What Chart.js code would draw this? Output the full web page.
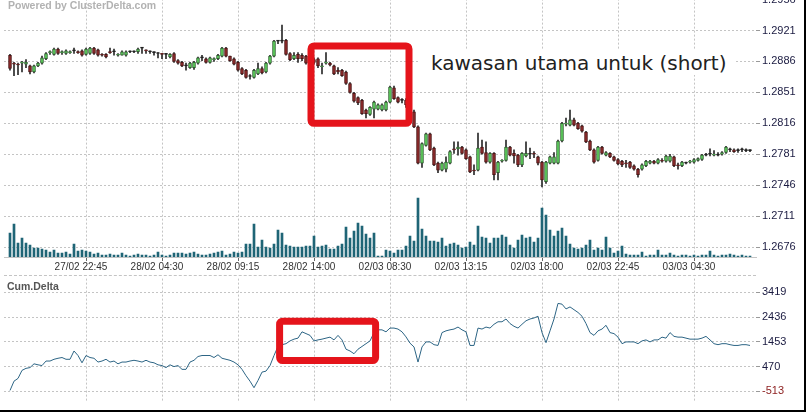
<!DOCTYPE html>
<html>
<head>
<meta charset="utf-8">
<script src="https://cdn.jsdelivr.net/npm/chart.js@4.4.1/dist/chart.umd.min.js"></script>
<style>
  body { margin: 0; background: #fff; width: 811px; height: 419px; overflow: hidden; position: relative; font-family: "Liberation Sans", Arial, sans-serif; }
  #frame { position: absolute; left: 0; top: -2px; width: 804px; height: 412px; border-right: 2px solid #000; border-bottom: 2px solid #000; }
  #top { position: absolute; left: 0; top: -10px; }
  #bot { position: absolute; left: 0; top: 270px; }
  #sep { position: absolute; left: 4px; top: 275px; width: 752px; border-top: 1px dashed #c4c4c4; }
  #powered { position: absolute; left: 8px; top: -1px; font: bold 10.5px "Liberation Sans", Arial, sans-serif; color: #b2b2b2; }
  #cum { position: absolute; left: 7px; top: 280px; font: bold 10.5px "Liberation Sans", Arial, sans-serif; color: #555; }
  #note { position: absolute; left: 418px; top: 50px; width: 304px; height: 22px; padding: 3px 0 0 13px; background: #fff;
          font: 20px/20px "DejaVu Sans", sans-serif; color: #222; white-space: nowrap; }
</style>
</head>
<body>
<div id="frame"></div>
<canvas id="top" width="806" height="285"></canvas>
<canvas id="bot" width="806" height="140"></canvas>
<div id="sep"></div>
<div id="powered">Powered by ClusterDelta.com</div>
<div id="cum">Cum.Delta</div>
<div id="note">kawasan utama untuk (short)</div>
<script>
// candle index of each labelled time (one candle every 4px, 19 candles per label)
const tickIdx = [19, 38, 57, 76, 95, 114, 133, 152, 171];
const timeLabels = ['27/02 22:45', '28/02 04:30', '28/02 09:15', '28/02 14:00', '02/03 08:30',
                    '02/03 13:15', '02/03 18:00', '02/03 22:45', '03/03 04:30'];
const priceTicks = [1.2956, 1.2921, 1.2886, 1.2851, 1.2816, 1.2781, 1.2746, 1.2711, 1.2676];
const deltaTicks = [3419, 2436, 1453, 470, -513];

const open = [
  1.2893,1.2884,1.2883,1.2884,1.2883,1.2881,1.2874,1.2881,1.2884,1.2889,
  1.2896,1.2894,1.2900,1.2896,1.2895,1.2896,1.2898,1.2897,1.2898,1.2894,
  1.2895,1.2901,1.2899,1.2894,1.2894,1.2897,1.2897,1.2893,1.2893,1.2893,
  1.2897,1.2897,1.2897,1.2901,1.2899,1.2897,1.2896,1.2895,1.2895,1.2894,
  1.2891,1.2895,1.2887,1.2885,1.2881,1.2879,1.2879,1.2884,1.2890,1.2889,
  1.2885,1.2888,1.2889,1.2892,1.2901,1.2892,1.2889,1.2885,1.2878,1.2876,
  1.2869,1.2868,1.2872,1.2878,1.2874,1.2884,1.2892,1.2909,1.2909,1.2910,
  1.2895,1.2889,1.2894,1.2893,1.2892,1.2885,1.2888,1.2889,1.2880,1.2884,
  1.2884,1.2881,1.2876,1.2876,1.2874,1.2861,1.2850,1.2845,1.2842,1.2831,
  1.2826,1.2832,1.2832,1.2831,1.2831,1.2840,1.2856,1.2845,1.2842,1.2842,
  1.2837,1.2829,1.2812,1.2771,1.2791,1.2804,1.2788,1.2771,1.2763,1.2764,
  1.2771,1.2787,1.2787,1.2789,1.2786,1.2778,1.2763,1.2763,1.2789,1.2783,
  1.2772,1.2782,1.2760,1.2773,1.2774,1.2789,1.2782,1.2780,1.2769,1.2779,
  1.2781,1.2782,1.2778,1.2772,1.2750,1.2771,1.2771,1.2771,1.2796,1.2815,
  1.2814,1.2820,1.2816,1.2813,1.2806,1.2796,1.2786,1.2774,1.2789,1.2780,
  1.2782,1.2778,1.2775,1.2773,1.2771,1.2772,1.2768,1.2764,1.2764,1.2768,
  1.2771,1.2773,1.2771,1.2774,1.2773,1.2773,1.2778,1.2769,1.2768,1.2771,
  1.2772,1.2772,1.2774,1.2775,1.2780,1.2781,1.2780,1.2780,1.2781,1.2783,
  1.2786,1.2786,1.2785,1.2786,1.2785,1.2785
];
const high = [
  1.2894,1.2885,1.2884,1.2886,1.2888,1.2882,1.2882,1.2885,1.2892,1.2896,
  1.2898,1.2901,1.2901,1.2898,1.2899,1.2898,1.2901,1.2898,1.2899,1.2901,
  1.2902,1.2902,1.2900,1.2895,1.2895,1.2901,1.2900,1.2895,1.2898,1.2898,
  1.2898,1.2898,1.2901,1.2902,1.2899,1.2898,1.2897,1.2896,1.2895,1.2895,
  1.2895,1.2896,1.2888,1.2886,1.2884,1.2885,1.2886,1.2891,1.2893,1.2890,
  1.2891,1.2890,1.2894,1.2902,1.2902,1.2892,1.2890,1.2886,1.2879,1.2877,
  1.2871,1.2877,1.2884,1.2880,1.2885,1.2893,1.2910,1.2910,1.2927,1.2911,
  1.2896,1.2896,1.2896,1.2895,1.2893,1.2890,1.2890,1.2890,1.2884,1.2896,
  1.2885,1.2882,1.2879,1.2877,1.2875,1.2862,1.2851,1.2846,1.2843,1.2832,
  1.2835,1.2841,1.2838,1.2838,1.2841,1.2858,1.2858,1.2846,1.2844,1.2844,
  1.2838,1.2831,1.2813,1.2794,1.2805,1.2805,1.2789,1.2772,1.2772,1.2778,
  1.2785,1.2795,1.2795,1.2790,1.2787,1.2779,1.2769,1.2805,1.2797,1.2795,
  1.2783,1.2783,1.2773,1.2775,1.2797,1.2790,1.2786,1.2781,1.2783,1.2795,
  1.2788,1.2784,1.2779,1.2773,1.2773,1.2779,1.2783,1.2797,1.2817,1.2822,
  1.2831,1.2822,1.2817,1.2814,1.2807,1.2797,1.2787,1.2790,1.2790,1.2784,
  1.2783,1.2779,1.2776,1.2774,1.2774,1.2773,1.2769,1.2765,1.2770,1.2774,
  1.2774,1.2774,1.2776,1.2776,1.2780,1.2781,1.2779,1.2771,1.2773,1.2772,
  1.2774,1.2776,1.2777,1.2781,1.2782,1.2787,1.2785,1.2783,1.2784,1.2790,
  1.2788,1.2787,1.2787,1.2788,1.2787,1.2786
];
const low = [
  1.2876,1.2870,1.2871,1.2874,1.2879,1.2872,1.2873,1.2880,1.2883,1.2888,
  1.2894,1.2893,1.2894,1.2894,1.2894,1.2895,1.2895,1.2895,1.2892,1.2893,
  1.2894,1.2894,1.2892,1.2892,1.2890,1.2895,1.2893,1.2892,1.2893,1.2892,
  1.2896,1.2896,1.2895,1.2895,1.2895,1.2895,1.2893,1.2890,1.2889,1.2889,
  1.2890,1.2885,1.2883,1.2880,1.2876,1.2878,1.2877,1.2883,1.2887,1.2884,
  1.2884,1.2886,1.2888,1.2891,1.2891,1.2886,1.2882,1.2875,1.2871,1.2867,
  1.2866,1.2867,1.2871,1.2872,1.2873,1.2883,1.2891,1.2906,1.2907,1.2893,
  1.2887,1.2888,1.2885,1.2887,1.2883,1.2883,1.2883,1.2879,1.2872,1.2883,
  1.2881,1.2871,1.2872,1.2869,1.2860,1.2850,1.2840,1.2837,1.2826,1.2822,
  1.2825,1.2822,1.2831,1.2830,1.2830,1.2839,1.2843,1.2839,1.2839,1.2834,
  1.2828,1.2811,1.2770,1.2766,1.2790,1.2785,1.2768,1.2760,1.2762,1.2761,
  1.2770,1.2782,1.2780,1.2781,1.2775,1.2760,1.2758,1.2762,1.2781,1.2771,
  1.2771,1.2752,1.2752,1.2772,1.2773,1.2779,1.2771,1.2767,1.2767,1.2778,
  1.2776,1.2777,1.2769,1.2744,1.2748,1.2770,1.2770,1.2770,1.2795,1.2813,
  1.2813,1.2813,1.2809,1.2806,1.2794,1.2785,1.2771,1.2773,1.2781,1.2779,
  1.2777,1.2773,1.2769,1.2767,1.2766,1.2765,1.2763,1.2755,1.2763,1.2767,
  1.2770,1.2770,1.2770,1.2772,1.2772,1.2772,1.2767,1.2764,1.2767,1.2770,
  1.2771,1.2771,1.2773,1.2774,1.2779,1.2779,1.2779,1.2779,1.2780,1.2782,
  1.2784,1.2783,1.2783,1.2784,1.2784,1.2784
];
const close = [
  1.2878,1.2883,1.2882,1.2885,1.2885,1.2874,1.2881,1.2884,1.2890,1.2895,
  1.2897,1.2900,1.2895,1.2897,1.2898,1.2897,1.2898,1.2896,1.2893,1.2900,
  1.2901,1.2895,1.2893,1.2893,1.2891,1.2896,1.2897,1.2894,1.2897,1.2897,
  1.2897,1.2897,1.2900,1.2901,1.2898,1.2897,1.2896,1.2895,1.2894,1.2894,
  1.2894,1.2886,1.2884,1.2881,1.2881,1.2884,1.2885,1.2890,1.2890,1.2885,
  1.2890,1.2889,1.2893,1.2901,1.2892,1.2887,1.2883,1.2876,1.2872,1.2868,
  1.2869,1.2876,1.2878,1.2873,1.2884,1.2892,1.2909,1.2909,1.2909,1.2894,
  1.2888,1.2893,1.2889,1.2889,1.2884,1.2888,1.2885,1.2881,1.2881,1.2885,
  1.2882,1.2872,1.2874,1.2870,1.2861,1.2851,1.2841,1.2839,1.2827,1.2827,
  1.2834,1.2840,1.2837,1.2837,1.2840,1.2857,1.2844,1.2840,1.2842,1.2837,
  1.2831,1.2812,1.2771,1.2793,1.2804,1.2786,1.2769,1.2763,1.2771,1.2772,
  1.2784,1.2786,1.2789,1.2782,1.2776,1.2761,1.2762,1.2788,1.2782,1.2772,
  1.2782,1.2758,1.2772,1.2774,1.2789,1.2780,1.2779,1.2769,1.2782,1.2782,
  1.2781,1.2781,1.2771,1.2752,1.2772,1.2778,1.2778,1.2796,1.2816,1.2816,
  1.2820,1.2814,1.2810,1.2807,1.2795,1.2786,1.2772,1.2789,1.2782,1.2783,
  1.2778,1.2774,1.2770,1.2769,1.2770,1.2766,1.2764,1.2758,1.2769,1.2773,
  1.2773,1.2771,1.2775,1.2773,1.2779,1.2779,1.2768,1.2768,1.2772,1.2771,
  1.2773,1.2775,1.2776,1.2780,1.2780,1.2781,1.2781,1.2780,1.2783,1.2789,
  1.2786,1.2784,1.2785,1.2786,1.2785,1.2785
];
const volume = [
  480,660,280,380,280,240,180,180,160,140,
  100,140,80,80,100,60,260,120,140,120,
  100,60,80,40,40,60,40,40,80,40,
  20,40,60,40,40,20,40,100,40,20,
  40,80,80,80,60,80,100,60,40,40,
  60,80,100,120,40,60,100,80,100,260,
  260,660,200,340,200,180,260,540,480,240,
  220,200,200,200,220,220,420,200,220,240,
  160,160,220,260,600,380,520,680,620,460,
  380,480,20,20,140,120,80,140,140,220,
  420,320,1180,560,420,320,320,300,380,220,
  260,280,240,180,200,300,240,620,400,380,
  280,380,380,440,400,240,180,340,440,380,
  400,300,380,980,840,540,420,520,580,420,
  260,180,160,180,240,340,140,180,140,400,
  180,80,120,220,60,40,40,40,100,20,
  40,40,140,40,40,80,40,20,40,40,
  20,40,20,40,40,120,40,20,40,40,
  60,40,20,40,20,20
];
const cumDelta = [
  -480,-110,0,320,400,430,580,540,510,690,
  690,760,800,830,760,760,1090,910,620,910,
  830,800,650,690,760,650,690,580,650,650,
  690,720,690,650,720,650,620,540,510,430,
  540,470,510,360,360,650,720,870,910,910,
  910,830,940,800,760,720,650,540,360,110,
  -110,-370,-80,250,290,510,910,1270,1340,1380,
  1490,1560,1600,1850,1780,1710,1490,1530,1560,1600,
  1640,1530,1710,1530,1160,1090,980,1160,1270,1380,
  1490,1820,1930,1930,1850,2000,2000,1960,1850,1650,
  1400,1250,650,1250,1450,1450,1340,1310,1820,1890,
  1930,1960,2040,1930,1850,1310,1310,2000,1960,2040,
  2000,2150,2250,2250,2360,2180,2070,2000,2150,2290,
  2360,2400,2470,1820,1420,1890,2360,2980,2950,2760,
  2840,2730,2620,2470,2180,1820,1710,1890,1960,2110,
  1820,1780,1640,1380,1450,1450,1450,1380,1490,1530,
  1450,1530,1530,1640,1600,1820,1670,1640,1640,1600,
  1560,1560,1560,1600,1670,1530,1380,1340,1380,1380,
  1340,1310,1310,1340,1340,1310
];

// highlighted zones: candle index range and value range
const shortZone = { from: 75.25, to: 99.75, hi: 1.29035, lo: 1.2816 };
const deltaZone = { from: 67.4, to: 91.4, hi: 2272, lo: 707 };

const GRID = '#c4c4c4';
const UP = '#5fd35f', UP_EDGE = '#2f5f2f';
const DOWN = '#8e2b2b', DOWN_EDGE = '#4a1515';
const FLAT = '#222';

const idx = open.map((_, i) => i);
const bodyFill = idx.map(i => close[i] > open[i] ? UP : close[i] < open[i] ? DOWN : FLAT);
const bodyEdge = idx.map(i => close[i] > open[i] ? UP_EDGE : close[i] < open[i] ? DOWN_EDGE : FLAT);

function zoneBox(zone, yId) {
  return {
    id: 'zone' + yId,
    afterDatasetsDraw(chart) {
      const x = chart.scales.x, y = chart.scales[yId], c = chart.ctx;
      const l = x.getPixelForValue(zone.from), r = x.getPixelForValue(zone.to);
      const t = y.getPixelForValue(zone.hi), b = y.getPixelForValue(zone.lo);
      c.save();
      c.strokeStyle = '#e5141b';
      c.lineWidth = 7;
      c.lineJoin = 'round';
      c.beginPath();
      c.roundRect(l, t, r - l, b - t, 3);
      c.stroke();
      c.restore();
    }
  };
}

function xAxis(showLabels) {
  return {
    type: 'linear', min: -1.5, max: 186.5, offset: false,
    afterBuildTicks: s => { s.ticks = tickIdx.map(v => ({ value: v })); },
    afterFit: s => { s.height = showLabels ? 18 : 0; },
    grid: { color: GRID, offset: false, drawTicks: showLabels, tickLength: 4, tickColor: '#666', borderDash: [2, 2] },
    border: { display: showLabels, color: GRID, dash: [2, 2] },
    ticks: {
      display: showLabels, autoSkip: false, maxRotation: 0, padding: 0, labelOffset: -5,
      color: '#333', font: { family: 'Liberation Sans', size: 10 },
      callback: v => timeLabels[tickIdx.indexOf(v)]
    }
  };
}

function yAxis(tickList, min, max, fmt) {
  return {
    position: 'right', min, max,
    afterBuildTicks: s => { s.ticks = tickList.map(v => ({ value: v })); },
    afterFit: s => { s.width = 50; },
    grid: { color: GRID, tickLength: 4, tickColor: '#999', borderDash: [2, 2] },
    border: { display: false, dash: [2, 2] },
    ticks: {
      padding: 2, font: { family: 'Liberation Sans', size: 11 },
      color: c => c.tick && c.tick.value < 0 ? '#8b1c1c' : '#1a1a40',
      callback: fmt
    }
  };
}

Chart.defaults.animation = false;

new Chart(document.getElementById('top'), {
  type: 'bar',
  data: {
    datasets: [
      {
        label: 'Body', data: idx.map(i => ({ x: i, y: [open[i], close[i]] })),
        backgroundColor: bodyFill, borderColor: bodyEdge, borderWidth: 1, borderSkipped: false,
        barThickness: 3, minBarLength: 1, grouped: false, order: 0
      },
      {
        label: 'Wick', data: idx.map(i => ({ x: i, y: [low[i], high[i]] })),
        backgroundColor: '#2a2a2a', barThickness: 1, grouped: false, order: 1
      },
      {
        label: 'Volume', data: idx.map(i => ({ x: i, y: volume[i] })), yAxisID: 'yv',
        backgroundColor: '#1f6576', barThickness: 2, grouped: false, order: 2
      }
    ]
  },
  options: {
    responsive: false,
    layout: { padding: { top: 8, left: 4, right: 0, bottom: 0 } },
    plugins: { legend: { display: false }, tooltip: { enabled: false } },
    scales: {
      x: xAxis(true),
      y: yAxis(priceTicks, 1.26647, 1.29571, v => v.toFixed(4)),
      yv: { display: false, min: 0, max: 5180 }
    }
  },
  plugins: [zoneBox(shortZone, 'y')]
});

new Chart(document.getElementById('bot'), {
  type: 'line',
  data: {
    datasets: [{
      label: 'Cum.Delta', data: idx.map(i => ({ x: i, y: cumDelta[i] })),
      borderColor: '#2d6585', borderWidth: 1, pointRadius: 0, tension: 0
    }]
  },
  options: {
    responsive: false,
    layout: { padding: { top: 6, left: 4, right: 0, bottom: 0 } },
    plugins: { legend: { display: false }, tooltip: { enabled: false } },
    scales: {
      x: xAxis(false),
      y: yAxis(deltaTicks, -913, 3965, v => String(v))
    }
  },
  plugins: [zoneBox(deltaZone, 'y')]
});
</script>
</body>
</html>
